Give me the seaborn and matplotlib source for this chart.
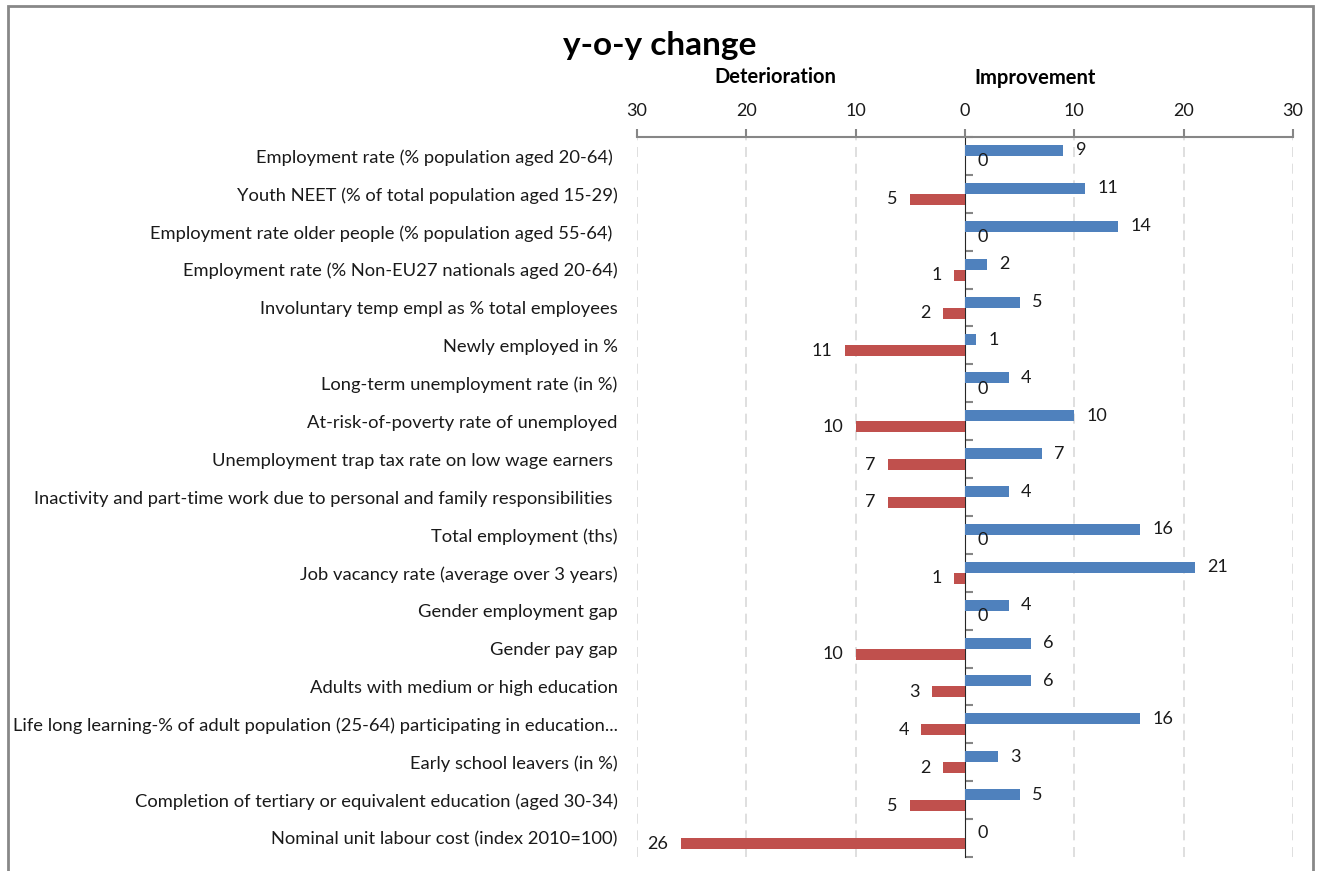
import matplotlib
matplotlib.use("Agg")
import matplotlib.pyplot as plt
import seaborn as sns
import pandas as pd
from matplotlib.patches import Rectangle

categories = [
    "Employment rate (% population aged 20-64) ",
    "Youth NEET (% of total population aged 15-29)",
    "Employment rate older people (% population aged 55-64) ",
    "Employment rate (% Non-EU27 nationals aged 20-64)",
    "Involuntary temp empl as % total employees",
    "Newly employed in %",
    "Long-term unemployment rate (in %)",
    "At-risk-of-poverty rate of unemployed",
    "Unemployment trap tax rate on low wage earners ",
    "Inactivity and part-time work due to personal and family responsibilities ",
    "Total employment (ths)",
    "Job vacancy rate (average over 3 years)",
    "Gender employment gap",
    "Gender pay gap",
    "Adults with medium or high education",
    "Life long learning-% of adult population (25-64) participating in education...",
    "Early school leavers (in %)",
    "Completion of tertiary or equivalent education (aged 30-34)",
    "Nominal unit labour cost (index 2010=100)",
]
improvement = [9, 11, 14, 2, 5, 1, 4, 10, 7, 4, 16, 21, 4, 6, 6, 16, 3, 5, 0]
deterioration = [0, 5, 0, 1, 2, 11, 0, 10, 7, 7, 0, 1, 0, 10, 3, 4, 2, 5, 26]
tick_values = [-30, -20, -10, 0, 10, 20, 30]
tick_labels = ["30", "20", "10", "0", "10", "20", "30"]

BLUE = "#4F81BD"
RED = "#C0504D"
AXIS_GRAY = "#868686"
TXT = "#1a1a1a"

df = pd.concat([
    pd.DataFrame({"category": categories, "value": improvement, "series": "Improvement"}),
    pd.DataFrame({"category": categories, "value": [-v for v in deterioration], "series": "Deterioration"}),
], ignore_index=True)

sns.set_style("white")
plt.rcParams["font.family"] = ["Lato", "DejaVu Sans"]

W, H = 1318, 871
fig = plt.figure(figsize=(W / 100, H / 100), dpi=100)
ax = fig.add_axes([637 / W, 1 - 857 / H, (1293 - 637) / W, (857 - 137) / H])

sns.barplot(data=df, y="category", x="value", hue="series",
            hue_order=["Improvement", "Deterioration"],
            palette=[BLUE, RED], orient="h", width=0.58, gap=0,
            saturation=1, linewidth=0, legend=False, ax=ax, order=categories)

ax.set_xlim(-30, 30)
ax.set_ylim(len(categories) - 0.5, -0.5)
ax.set_xlabel("")
ax.set_ylabel("")

# top axis
ax.xaxis.tick_top()
ax.set_xticks(tick_values)
ax.set_xticklabels(tick_labels)
ax.tick_params(axis="x", direction="out", length=6, width=1.5, color=AXIS_GRAY,
               labelsize=13, labelcolor=TXT, pad=7)
for s in ["left", "right", "bottom"]:
    ax.spines[s].set_visible(False)
ax.spines["top"].set_visible(True)
ax.spines["top"].set_color(AXIS_GRAY)
ax.spines["top"].set_linewidth(1.5)

# category labels
ax.tick_params(axis="y", length=0, labelsize=13.2, labelcolor=TXT, pad=14)

# gridlines (dashed) except at zero
for t in tick_values:
    if t != 0:
        ax.axvline(t, color="#D9D9D9", lw=1.2, ls=(0, (6, 4)), zorder=0)

# zero axis with ticks between categories
sec = ax.secondary_yaxis(0.5)
sec.set_yticks([i - 0.5 for i in range(len(categories) + 1)])
sec.set_yticklabels([])
sec.tick_params(axis="y", direction="out", length=6, width=1.5, color=AXIS_GRAY)
sec.spines["left"].set_color(AXIS_GRAY)
sec.spines["left"].set_linewidth(1.5)

# value labels
cont_imp, cont_det = ax.containers[0], ax.containers[1]
ax.bar_label(cont_imp, labels=[f"{v:.0f}" for v in improvement], padding=9,
             fontsize=13, color=TXT)
ax.bar_label(cont_det, labels=[f"{v:.0f}" for v in deterioration], padding=9,
             fontsize=13, color=TXT)

# titles
fig.text(660 / W, 1 - 46 / H, "y-o-y change", ha="center", va="center",
         fontsize=24, fontweight="bold", color="black")
fig.text(775 / W, 1 - 77 / H, "Deterioration", ha="center", va="center",
         fontsize=14.5, fontweight="bold", color="black")
fig.text(1035 / W, 1 - 78 / H, "Improvement", ha="center", va="center",
         fontsize=14.5, fontweight="bold", color="black")

# outer frame (open at bottom)
fig.add_artist(Rectangle((8 / W, -0.05), (1313 - 8) / W, 1.05 - 6 / H,
                         transform=fig.transFigure, fill=False,
                         edgecolor="#888888", linewidth=2))

fig.savefig("out.png", dpi=100)
